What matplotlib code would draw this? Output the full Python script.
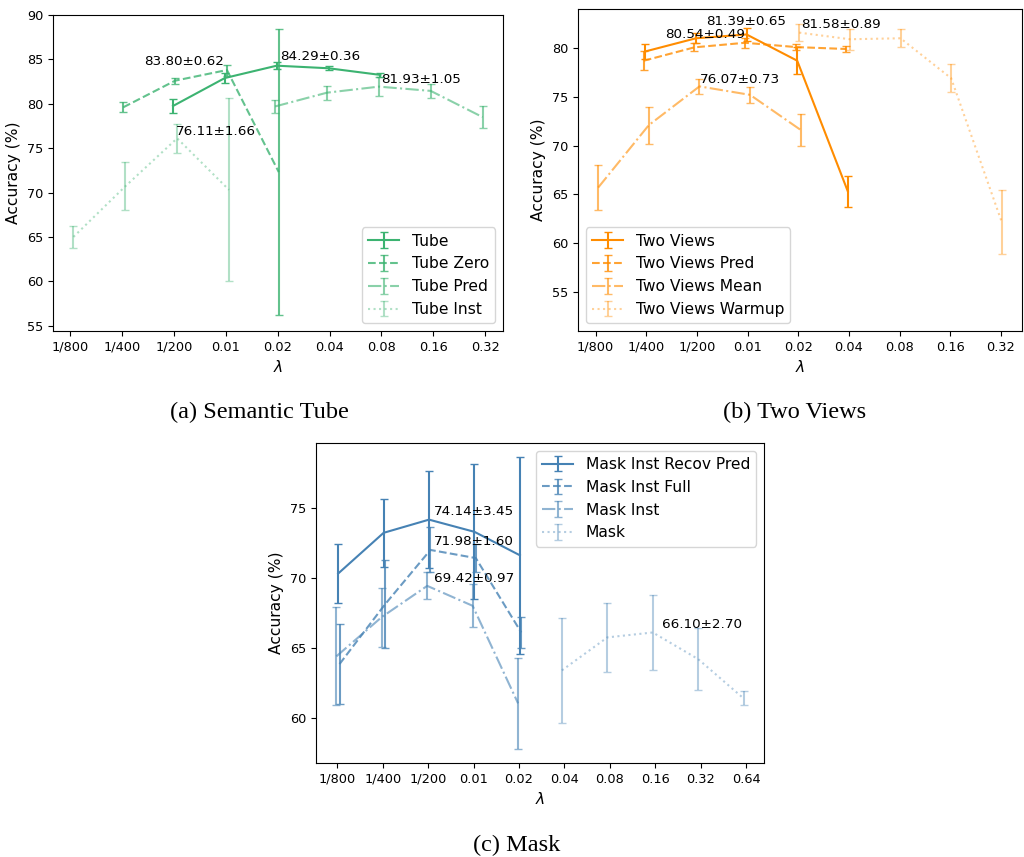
import matplotlib
matplotlib.use("Agg")
import matplotlib.pyplot as plt
import numpy as np

plt.rcParams["font.size"] = 9.3
plt.rcParams["legend.fontsize"] = 11.2
plt.rcParams["axes.labelsize"] = 11.2

# lambda grid shared by all panels
ticks_ab = ["1/800", "1/400", "1/200", "0.01", "0.02", "0.04", "0.08", "0.16", "0.32"]
ticks_c = ticks_ab + ["0.64"]

# (a) Semantic Tube: (x index, mean, std)
tube_x = [2, 3, 4, 5, 6]
tube_y = [79.75, 82.9, 84.29, 84.0, 83.25]
tube_e = [0.75, 0.6, 0.36, 0.2, 0.2]
tube_zero_x = [1, 2, 3, 4]
tube_zero_y = [79.6, 82.6, 83.80, 72.3]
tube_zero_e = [0.55, 0.35, 0.62, 16.1]
tube_pred_x = [4, 5, 6, 7, 8]
tube_pred_y = [79.7, 81.25, 81.93, 81.45, 78.5]
tube_pred_e = [0.7, 0.8, 1.05, 0.8, 1.25]
tube_inst_x = [0, 1, 2, 3]
tube_inst_y = [65.0, 70.7, 76.11, 70.3]
tube_inst_e = [1.25, 2.7, 1.66, 10.3]

# (b) Two Views
tv_x = [1, 2, 3, 4, 5]
tv_y = [79.65, 81.0, 81.39, 78.7, 65.3]
tv_e = [0.77, 0.5, 0.65, 1.4, 1.6]
tv_pred_x = [1, 2, 3, 4, 5]
tv_pred_y = [78.7, 80.07, 80.54, 80.1, 79.9]
tv_pred_e = [1.0, 0.4, 0.49, 0.3, 0.3]
tv_mean_x = [0, 1, 2, 3, 4]
tv_mean_y = [65.7, 72.1, 76.07, 75.2, 71.6]
tv_mean_e = [2.3, 1.9, 0.73, 0.85, 1.6]
tv_warm_x = [4, 5, 6, 7, 8]
tv_warm_y = [81.58, 80.9, 81.0, 76.9, 62.15]
tv_warm_e = [0.89, 1.1, 0.9, 1.43, 3.25]

# (c) Mask
recov_x = [0, 1, 2, 3, 4]
recov_y = [70.3, 73.2, 74.14, 73.27, 71.6]
recov_e = [2.13, 2.42, 3.45, 4.8, 7.0]
full_x = [0, 1, 2, 3, 4]
full_y = [63.85, 68.1, 71.98, 71.4, 66.1]
full_e = [2.82, 3.14, 1.60, 1.0, 1.1]
inst_x = [0, 1, 2, 3, 4]
inst_y = [64.4, 67.2, 69.42, 68.0, 61.05]
inst_e = [3.5, 2.1, 0.97, 1.53, 3.26]
mask_x = [5, 6, 7, 8, 9]
mask_y = [63.4, 65.75, 66.10, 64.2, 61.4]
mask_e = [3.72, 2.47, 2.70, 2.2, 0.5]

ALPHAS = [1.0, 0.8, 0.6, 0.4]
STYLES = ["-", "--", "-.", ":"]
ANNOT = dict(fontsize=9.7, va="bottom")


def panel(ax, series, color, offsets, ticks):
    for (name, xs, ys, es), alpha, ls, off in zip(series, ALPHAS, STYLES, offsets):
        ax.errorbar(np.array(xs) + off, ys, yerr=es, color=color, alpha=alpha,
                    linestyle=ls, capsize=3, label=name)
    ax.set_xticks(range(len(ticks)))
    ax.set_xticklabels(ticks)
    ax.set_xlabel(r"$\lambda$")
    ax.set_ylabel("Accuracy (%)")


fig = plt.figure(figsize=(10.24, 8.57), dpi=100)
W, H = 1024, 857


def box(l, t, r, b):
    return [l / W, 1 - b / H, (r - l) / W, (b - t) / H]


ax_a = fig.add_axes(box(53, 15, 503, 331))
panel(ax_a, [("Tube", tube_x, tube_y, tube_e),
             ("Tube Zero", tube_zero_x, tube_zero_y, tube_zero_e),
             ("Tube Pred", tube_pred_x, tube_pred_y, tube_pred_e),
             ("Tube Inst", tube_inst_x, tube_inst_y, tube_inst_e)],
      "mediumseagreen", [-0.02, 0.02, -0.05, 0.06], ticks_ab)
ax_a.set_ylim(54.4, 90.0)
ax_a.legend(loc="lower right")
ax_a.text(2.97, 84.0, "83.80±0.62", ha="right", **ANNOT)
ax_a.text(4.05, 84.6, "84.29±0.36", ha="left", **ANNOT)
ax_a.text(6.0, 82.0, "81.93±1.05", ha="left", **ANNOT)
ax_a.text(2.03, 76.1, "76.11±1.66", ha="left", **ANNOT)

ax_b = fig.add_axes(box(578, 9, 1022, 331))
panel(ax_b, [("Two Views", tv_x, tv_y, tv_e),
             ("Two Views Pred", tv_pred_x, tv_pred_y, tv_pred_e),
             ("Two Views Mean", tv_mean_x, tv_mean_y, tv_mean_e),
             ("Two Views Warmup", tv_warm_x, tv_warm_y, tv_warm_e)],
      "darkorange", [-0.02, -0.05, 0.05, 0.02], ticks_ab)
ax_b.set_ylim(51.0, 84.0)
ax_b.set_yticks([55, 60, 65, 70, 75, 80])
ax_b.legend(loc="lower left")
ax_b.text(2.95, 80.7, "80.54±0.49", ha="right", **ANNOT)
ax_b.text(2.98, 82.1, "81.39±0.65", ha="center", **ANNOT)
ax_b.text(2.05, 76.15, "76.07±0.73", ha="left", **ANNOT)
ax_b.text(4.05, 81.75, "81.58±0.89", ha="left", **ANNOT)

ax_c = fig.add_axes(box(316, 443, 764, 763))
panel(ax_c, [("Mask Inst Recov Pred", recov_x, recov_y, recov_e),
             ("Mask Inst Full", full_x, full_y, full_e),
             ("Mask Inst", inst_x, inst_y, inst_e),
             ("Mask", mask_x, mask_y, mask_e)],
      "steelblue", [0.02, 0.05, -0.02, -0.055], ticks_c)
ax_c.set_ylim(56.8, 79.6)
ax_c.set_yticks([60, 65, 70, 75])
ax_c.legend(loc="upper right")
ax_c.text(2.12, 74.25, "74.14±3.45", ha="left", **ANNOT)
ax_c.text(2.12, 72.1, "71.98±1.60", ha="left", **ANNOT)
ax_c.text(2.12, 69.5, "69.42±0.97", ha="left", **ANNOT)
ax_c.text(7.15, 66.2, "66.10±2.70", ha="left", **ANNOT)

cap = dict(family="Liberation Serif", fontsize=17.5, ha="center", va="center")
fig.text(259 / W, 1 - 412 / H, "(a) Semantic Tube", **cap)
fig.text(795 / W, 1 - 412 / H, "(b) Two Views", **cap)
fig.text(517 / W, 1 - 845 / H, "(c) Mask", **cap)

fig.savefig("out.png", dpi=100)
